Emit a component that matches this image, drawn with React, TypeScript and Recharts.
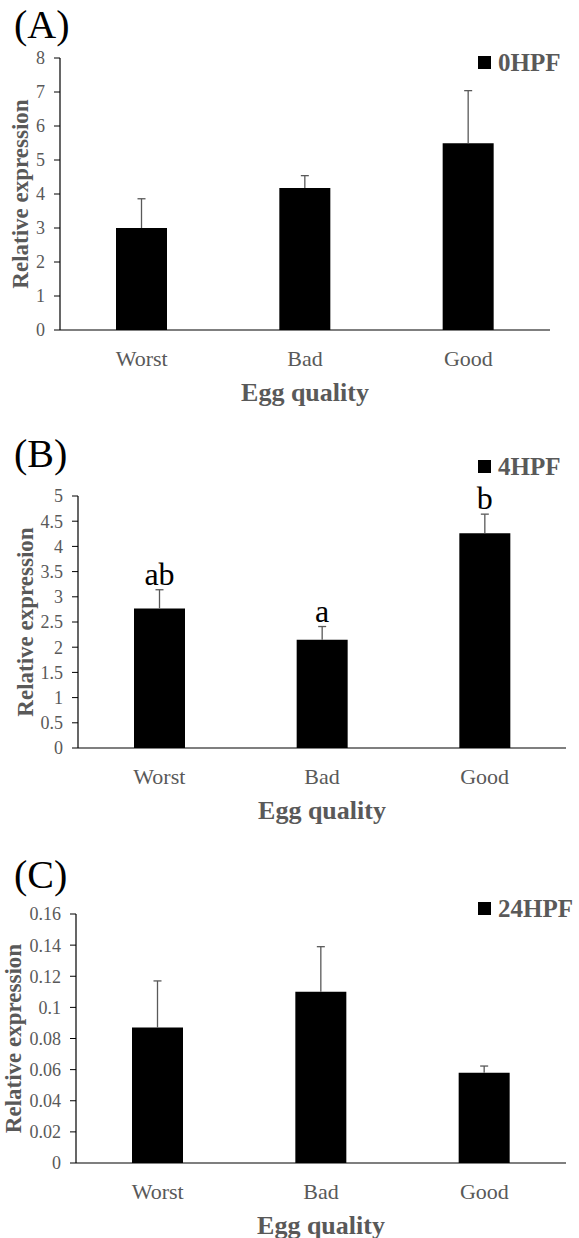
import React from "react";
import { BarChart, Bar, XAxis, YAxis, Legend, LabelList, Label } from "recharts";

const categories = ["Worst", "Bad", "Good"];

// 0 HPF
const hpf0 = [3.0, 4.18, 5.49];
const hpf0Err = [0.86, 0.36, 1.55];
const hpf0Ticks = [0, 1, 2, 3, 4, 5, 6, 7, 8];

// 4 HPF
const hpf4 = [2.77, 2.15, 4.26];
const hpf4Err = [0.37, 0.26, 0.38];
const hpf4Letters = ["ab", "a", "b"];
const hpf4Ticks = [0, 0.5, 1, 1.5, 2, 2.5, 3, 3.5, 4, 4.5, 5];

// 24 HPF
const hpf24 = [0.087, 0.11, 0.058];
const hpf24Err = [0.03, 0.029, 0.0043];
const hpf24Ticks = [0, 0.02, 0.04, 0.06, 0.08, 0.1, 0.12, 0.14, 0.16];

const serif = "'Liberation Serif', 'Times New Roman', serif";
const gray = "#595959";

type PanelProps = {
  tag: string;
  series: string;
  values: number[];
  errors: number[];
  letters?: string[];
  ticks: number[];
  height: number;
  top: number;
  plotLeft: number;
  plotRight: number;
  plotTop: number;
  plotBottom: number;
  legendTop: number;
  tagTop: number;
  yLabelX: number;
};

// upper-only error bar: a range bar from value to value + error, drawn as a whisker
const Whisker = (props: any) => {
  const { x, y, width, height } = props;
  if (x == null || y == null) return null;
  const cx = x + width / 2;
  return (
    <g>
      <line x1={cx} y1={y} x2={cx} y2={y + height} stroke={gray} strokeWidth={1.3} />
      <line x1={cx - 4} y1={y} x2={cx + 4} y2={y} stroke={gray} strokeWidth={1.3} />
    </g>
  );
};

const Panel = (p: PanelProps) => {
  const yMax = p.ticks[p.ticks.length - 1];
  const data = categories.map((name, i) => ({
    name,
    value: p.values[i],
    range: [p.values[i], p.values[i] + p.errors[i]],
    sig: p.letters ? p.letters[i] : "",
  }));

  const renderSig = (props: any) => {
    const vb = props.viewBox || props;
    const { x, y, width } = vb;
    return (
      <text
        x={x + width / 2}
        y={y - 5}
        textAnchor="middle"
        fontSize={32}
        fontFamily={serif}
        fill="#000"
      >
        {props.value}
      </text>
    );
  };

  const renderLegend = (props: any) => {
    const item = props.payload && props.payload.find((d: any) => d.value === p.series);
    return (
      <div style={{ display: "flex", alignItems: "center" }}>
        <span style={{ display: "inline-block", width: 13, height: 13, background: "#000", marginRight: 7 }} />
        <span style={{ fontFamily: serif, fontWeight: "bold", fontSize: 25, color: gray, lineHeight: "25px" }}>
          {item ? item.value : p.series}
        </span>
      </div>
    );
  };

  return (
    <div style={{ position: "absolute", left: 0, top: p.top, width: 579, height: p.height }}>
      <div
        style={{
          position: "absolute",
          left: 14,
          top: p.tagTop,
          fontFamily: serif,
          fontSize: 40,
          lineHeight: 1,
          color: "#000",
        }}
      >
        {p.tag}
      </div>
      <BarChart
        width={579}
        height={p.height}
        data={data}
        margin={{ top: p.plotTop, right: 579 - p.plotRight, left: 0, bottom: 0 }}
        barSize={51}
      >
        <XAxis
          dataKey="name"
          height={p.height - p.plotBottom}
          tickLine={false}
          axisLine={{ stroke: "#000", strokeWidth: 1.2 }}
          tickMargin={14}
          tick={{ fill: gray, fontSize: 22, fontFamily: serif }}
        >
          <Label
            content={(props: any) => {
              const vb = props.viewBox;
              return (
                <text
                  x={vb.x + vb.width / 2}
                  y={vb.y + 62}
                  textAnchor="middle"
                  dominantBaseline="central"
                  fontFamily={serif}
                  fontWeight="bold"
                  fontSize={26}
                  fill={gray}
                >
                  Egg quality
                </text>
              );
            }}
          />
        </XAxis>
        <XAxis xAxisId="err" dataKey="name" hide height={p.height - p.plotBottom} />
        <YAxis
          width={p.plotLeft}
          domain={[p.ticks[0], yMax]}
          ticks={p.ticks}
          interval={0}
          tickSize={6}
          tickMargin={9}
          tickLine={{ stroke: "#000" }}
          axisLine={{ stroke: "#000", strokeWidth: 1.2 }}
          tick={{ fill: gray, fontSize: 18, fontFamily: serif }}
        >
          <Label
            content={(props: any) => {
              const vb = props.viewBox;
              const cy = vb.y + vb.height / 2;
              return (
                <text
                  x={p.yLabelX}
                  y={cy}
                  transform={`rotate(-90, ${p.yLabelX}, ${cy})`}
                  textAnchor="middle"
                  dominantBaseline="central"
                  fontFamily={serif}
                  fontWeight="bold"
                  fontSize={23}
                  fill={gray}
                >
                  Relative expression
                </text>
              );
            }}
          />
        </YAxis>
        <Legend
          layout="horizontal"
          verticalAlign="middle"
          align="center"
          content={renderLegend}
          wrapperStyle={{ position: "absolute", left: 478, top: p.legendTop, width: "auto", height: "auto" }}
        />
        <Bar dataKey="value" name={p.series} fill="#000" isAnimationActive={false} />
        <Bar
          xAxisId="err"
          dataKey="range"
          name="error"
          legendType="none"
          shape={Whisker}
          isAnimationActive={false}
        >
          {p.letters && <LabelList dataKey="sig" content={renderSig} />}
        </Bar>
      </BarChart>
    </div>
  );
};

export default function App() {
  return (
    <div style={{ position: "absolute", left: 0, top: 0, width: 579, height: 1238, background: "#fff" }}>
      <Panel
        tag="(A)"
        series="0HPF"
        values={hpf0}
        errors={hpf0Err}
        ticks={hpf0Ticks}
        top={0}
        height={410}
        plotLeft={60}
        plotRight={550}
        plotTop={58}
        plotBottom={330}
        legendTop={50}
        tagTop={5}
        yLabelX={20}
      />
      <Panel
        tag="(B)"
        series="4HPF"
        values={hpf4}
        errors={hpf4Err}
        letters={hpf4Letters}
        ticks={hpf4Ticks}
        top={410}
        height={420}
        plotLeft={78}
        plotRight={566}
        plotTop={86}
        plotBottom={338}
        legendTop={44}
        tagTop={24}
        yLabelX={25}
      />
      <Panel
        tag="(C)"
        series="24HPF"
        values={hpf24}
        errors={hpf24Err}
        ticks={hpf24Ticks}
        top={830}
        height={408}
        plotLeft={76}
        plotRight={566}
        plotTop={84}
        plotBottom={333}
        legendTop={66}
        tagTop={25}
        yLabelX={13}
      />
    </div>
  );
}
